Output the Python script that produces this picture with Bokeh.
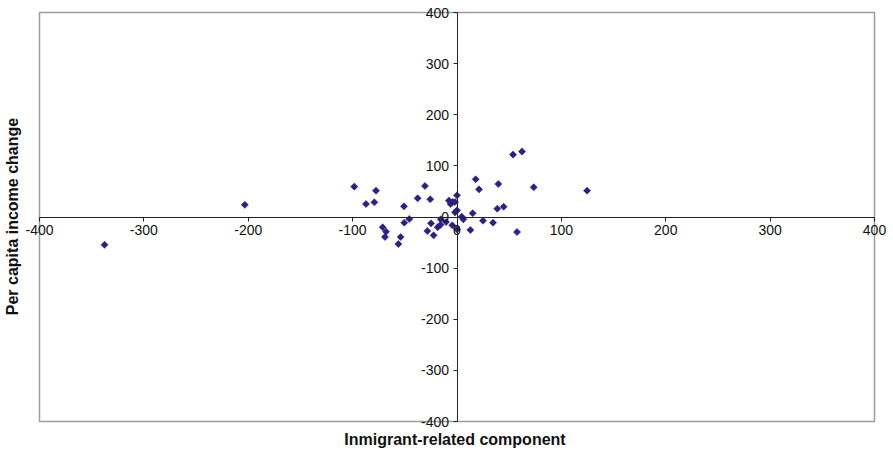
import math
from bokeh.plotting import figure
from bokeh.models import LinearAxis, FixedTicker, ColumnDataSource, BoxAnnotation
from bokeh.embed import file_html
from bokeh.resources import INLINE

# Data
immigrant_component = [-337.7, -203.3, -98.4, -87.2, -79.2, -77.6, -71.2, -68.0, -69.0, -54.0,
                       -56.2, -50.8, -50.5, -45.7, -37.7, -30.7, -25.6, -28.4, -24.9, -22.4,
                       -15.8, -18.5, -15.6, -10.5, -7.7, -6.1, -4.2, -1.9, 0.0, -1.9,
                       0.0, -4.5, 0.0, 4.5, 6.1, 12.8, 15.0, 17.9, 21.1, 24.9,
                       34.5, 38.6, 39.6, 44.7, 53.7, 57.5, 62.3, 73.5, 124.6]
income_change = [-54.4, 23.8, 59.4, 25.4, 28.7, 51.5, -20.2, -28.7, -39.1, -39.1,
                  -52.8, 20.9, -11.1, -3.9, 36.5, 60.7, 34.6, -27.4, -12.4, -35.9,
                  -15.3, -20.2, -4.6, -9.8, 32.0, 25.4, 29.4, 29.4, 42.4, 9.1,
                  13.0, -16.3, -24.1, 0.7, -4.6, -25.4, 7.2, 73.7, 54.1, -7.2,
                  -11.1, 16.3, 64.6, 20.2, 122.0, -29.4, 127.9, 58.1, 51.5]
tick_values = [-400, -300, -200, -100, 0, 100, 200, 300, 400]
tick_labels = ["-400", "-300", "-200", "-100", "0", "100", "200", "300", "400"]

FONT = "Liberation Sans"
TICK_FS = "14px"
TEXT_COLOR = "#111111"

x_min, x_max = tick_values[0], tick_values[-1]
y_min, y_max = tick_values[0], tick_values[-1]

# layout (pixels): plotting box and extra frame room so edge tick labels are not clipped
W, H = 893, 452
BOX_L, BOX_R, BOX_T, BOX_B = 39, 874, 12, 421
FRAME_L, FRAME_R, FRAME_T, FRAME_B = 20, 889, 3, 429
sx = (BOX_R - BOX_L) / (x_max - x_min)
sy = (BOX_B - BOX_T) / (y_max - y_min)
xr = (x_min - (BOX_L - FRAME_L) / sx, x_max + (FRAME_R - BOX_R) / sx)
yr = (y_min - (FRAME_B - BOX_B) / sy, y_max + (BOX_T - FRAME_T) / sy)

p = figure(width=W, height=H, x_range=xr, y_range=yr,
           output_backend="svg", toolbar_location=None,
           x_axis_location=None, y_axis_location=None,
           min_border_left=FRAME_L, min_border_right=W - FRAME_R,
           min_border_top=FRAME_T, min_border_bottom=H - FRAME_B)
p.xgrid.visible = False
p.ygrid.visible = False
p.outline_line_color = None
p.background_fill_color = "white"
p.border_fill_color = "white"

p.add_layout(BoxAnnotation(left=x_min, right=x_max, bottom=y_min, top=y_max,
                           fill_alpha=0, line_color="#9c9c9c", line_alpha=1.0,
                           line_width=1.5, level="underlay"))

overrides = dict(zip(tick_values, tick_labels))

def style_axis(ax, bounds):
    ax.ticker = FixedTicker(ticks=tick_values)
    ax.bounds = bounds
    ax.major_label_overrides = dict(overrides)
    ax.axis_line_color = "#222222"
    ax.axis_line_width = 1
    ax.major_tick_line_color = "#222222"
    ax.major_tick_in = 0
    ax.major_tick_out = 4
    ax.minor_tick_line_color = None
    ax.major_label_text_font = FONT
    ax.major_label_text_font_size = TICK_FS
    ax.major_label_text_color = TEXT_COLOR
    ax.major_label_standoff = 4

xax = LinearAxis(fixed_location=0)
style_axis(xax, (x_min, x_max))
p.add_layout(xax, "below")

yax = LinearAxis(fixed_location=0)
style_axis(yax, (y_min, y_max))
p.add_layout(yax, "left")

def title_axis(label, standoff):
    ax = LinearAxis(ticker=FixedTicker(ticks=[]), axis_line_color=None,
                    major_tick_line_color=None, minor_tick_line_color=None,
                    major_label_text_font_size="0px", major_tick_out=0, major_tick_in=0,
                    major_label_standoff=0, axis_label=label,
                    axis_label_standoff=standoff,
                    axis_label_text_font=FONT, axis_label_text_font_style="bold",
                    axis_label_text_font_size="16px", axis_label_text_color=TEXT_COLOR)
    return ax

p.add_layout(title_axis("Inmigrant-related component", 1), "below")
p.add_layout(title_axis("Per capita income change", 0), "left")

src = ColumnDataSource(dict(x=immigrant_component, y=income_change))
p.scatter("x", "y", source=src, marker="square", angle=math.pi / 4, size=5,
          fill_color="#2E1F86", line_color="#2E1F86", line_width=0.6)

open("out.html", "w").write(file_html(p, INLINE))
